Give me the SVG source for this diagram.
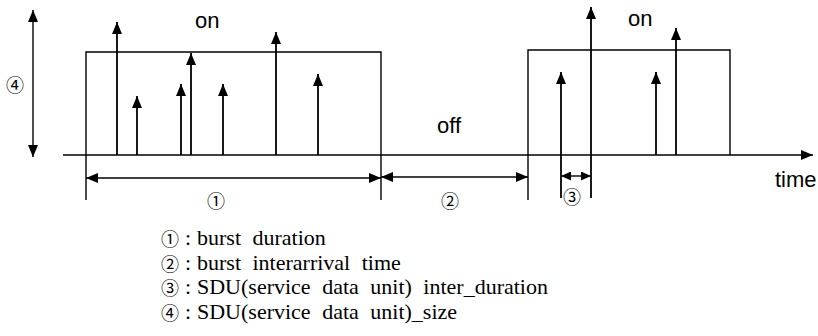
<svg xmlns="http://www.w3.org/2000/svg" width="818" height="336" viewBox="0 0 818 336">
  <defs>
    <marker id="ah" viewBox="0 0 12 10" refX="12" refY="5" markerUnits="userSpaceOnUse" markerWidth="12" markerHeight="10" orient="auto-start-reverse">
      <path d="M0,0 L12,5 L0,10 z" fill="#000"/>
    </marker>
    <marker id="ahs" viewBox="0 0 10 9" refX="10" refY="4.5" markerUnits="userSpaceOnUse" markerWidth="10" markerHeight="9" orient="auto-start-reverse">
      <path d="M0,0 L10,4.5 L0,9 z" fill="#000"/>
    </marker>
  </defs>
  <style>
    .ln { stroke: #000; stroke-width: 1.4; fill: none; }
    .sp { stroke: #000; stroke-width: 1.8; fill: none; marker-end: url(#ah); }
    .dim { stroke: #000; stroke-width: 1.4; fill: none; marker-start: url(#ah); marker-end: url(#ah); }
    .lbl { font-family: "Liberation Sans", Arial, sans-serif; font-size: 22px; fill: #000; }
    .num { font-family: "Noto Sans CJK JP", "DejaVu Sans", sans-serif; font-size: 18px; fill: #000; text-anchor: middle; dominant-baseline: central; }
    .lnum { font-family: "Noto Sans CJK JP", "DejaVu Sans", sans-serif; font-size: 18px; fill: #000; text-anchor: middle; dominant-baseline: central; }
    .leg { font-family: "Liberation Serif", "Times New Roman", serif; font-size: 22px; fill: #000; word-spacing: 6px; }
  </style>

  <g id="axis">
    <line class="ln" x1="63" y1="155" x2="813" y2="155" marker-end="url(#ah)"/>
    <text class="lbl" x="775" y="187">time</text>
  </g>

  <g id="burst1">
    <polyline class="ln" points="86,200 86,52 381,52 381,200"/>
    <text class="lbl" x="195" y="28">on</text>
  </g>

  <g id="burst2">
    <polyline class="ln" points="528,200 528,50 730,50 730,155"/>
    <text class="lbl" x="628" y="26">on</text>
  </g>

  <g id="off-label">
    <text class="lbl" x="437" y="133">off</text>
  </g>

  <g id="connectors">
    <!-- SDU spikes, burst 1 -->
    <line class="sp" x1="117" y1="155" x2="117" y2="22"/>
    <line class="sp" x1="137" y1="155" x2="137" y2="96"/>
    <line class="sp" x1="181" y1="155" x2="181" y2="84"/>
    <line class="sp" x1="191" y1="155" x2="191" y2="53"/>
    <line class="sp" x1="223" y1="155" x2="223" y2="84"/>
    <line class="sp" x1="276" y1="155" x2="276" y2="32"/>
    <line class="sp" x1="318" y1="155" x2="318" y2="74"/>
    <!-- SDU spikes, burst 2 -->
    <line class="sp" x1="561" y1="198" x2="561" y2="72"/>
    <line class="sp" x1="591" y1="198" x2="591" y2="7"/>
    <line class="sp" x1="656" y1="155" x2="656" y2="72"/>
    <line class="sp" x1="676" y1="155" x2="676" y2="28"/>
    <!-- dimension arrows -->
    <line class="dim" x1="33" y1="10" x2="33" y2="157"/>
    <line class="dim" x1="86" y1="178" x2="381" y2="178"/>
    <line class="dim" x1="381" y1="177" x2="528" y2="177"/>
    <line class="ln" x1="561" y1="176" x2="591" y2="176" marker-start="url(#ahs)" marker-end="url(#ahs)"/>
  </g>

  <g id="dim-labels">
    <text class="num" x="15" y="84">④</text>
    <text class="num" x="216" y="200">①</text>
    <text class="num" x="450" y="200">②</text>
    <text class="num" x="572" y="196">③</text>
  </g>

  <g id="legend">
    <text class="lnum" x="170" y="238">①</text>
    <text class="leg" x="185" y="245">:</text>
    <text class="leg" x="197" y="245">burst duration</text>
    <text class="lnum" x="170" y="262.5">②</text>
    <text class="leg" x="185" y="269.5">:</text>
    <text class="leg" x="197" y="269.5">burst interarrival time</text>
    <text class="lnum" x="170" y="287">③</text>
    <text class="leg" x="185" y="294">:</text>
    <text class="leg" x="197" y="294">SDU(service data unit) inter_duration</text>
    <text class="lnum" x="170" y="311.5">④</text>
    <text class="leg" x="185" y="318.5">:</text>
    <text class="leg" x="197" y="318.5">SDU(service data unit)_size</text>
  </g>
</svg>
